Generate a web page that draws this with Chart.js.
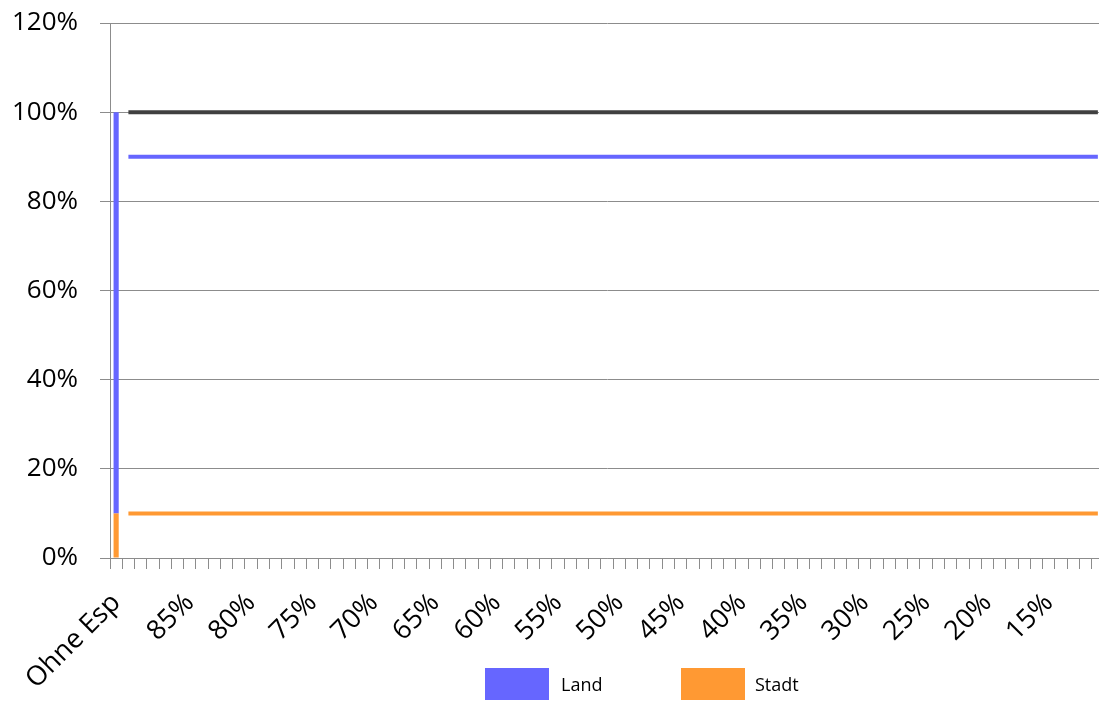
<!DOCTYPE html>
<html>
<head>
<meta charset="utf-8">
<script src="https://cdn.jsdelivr.net/npm/chart.js@4.4.0/dist/chart.umd.min.js"></script>
<style>
  html, body { margin: 0; padding: 0; background: #fff; overflow: hidden; }
  #wrap { position: relative; width: 1099px; height: 701px; overflow: hidden; font-family: "Open Sans", sans-serif; }
  #chart { position: absolute; left: 0; top: 0; }
  .key { position: absolute; top: 668px; width: 64px; height: 32px; }
  .keytext { position: absolute; top: 671px; font-size: 18px; line-height: 26px; color: #000; }
</style>
</head>
<body>
<div id="wrap">
  <!-- canvas is a few px wider than the page: the plot runs past the right edge like the original -->
  <canvas id="chart" width="1104" height="701"></canvas>
  <div class="key" style="left:485px;background:#6666ff"></div>
  <div class="keytext" style="left:561px">Land</div>
  <div class="key" style="left:681px;background:#ff9933"></div>
  <div class="keytext" style="left:755px">Stadt</div>
</div>
<script>
// categories (first one is the bar, the rest carry the reference lines)
const categories = ['Ohne Esp',
  '90%', '89%', '88%', '87%', '86%', '85%', '84%', '83%', '82%', '81%',
  '80%', '79%', '78%', '77%', '76%', '75%', '74%', '73%', '72%', '71%',
  '70%', '69%', '68%', '67%', '66%', '65%', '64%', '63%', '62%', '61%',
  '60%', '59%', '58%', '57%', '56%', '55%', '54%', '53%', '52%', '51%',
  '50%', '49%', '48%', '47%', '46%', '45%', '44%', '43%', '42%', '41%',
  '40%', '39%', '38%', '37%', '36%', '35%', '34%', '33%', '32%', '31%',
  '30%', '29%', '28%', '27%', '26%', '25%', '24%', '23%', '22%', '21%',
  '20%', '19%', '18%', '17%', '16%', '15%', '14%', '13%', '12%', '11%'];

// stacked bar at "Ohne Esp"
const stadtBar = [10];
const landBar = [90];

// horizontal lines
const totalLine = [null,
  100, 100, 100, 100, 100, 100, 100, 100, 100, 100,
  100, 100, 100, 100, 100, 100, 100, 100, 100, 100,
  100, 100, 100, 100, 100, 100, 100, 100, 100, 100,
  100, 100, 100, 100, 100, 100, 100, 100, 100, 100,
  100, 100, 100, 100, 100, 100, 100, 100, 100, 100,
  100, 100, 100, 100, 100, 100, 100, 100, 100, 100,
  100, 100, 100, 100, 100, 100, 100, 100, 100, 100,
  100, 100, 100, 100, 100, 100, 100, 100, 100, 100];
const landLine = [null,
  90, 90, 90, 90, 90, 90, 90, 90, 90, 90,
  90, 90, 90, 90, 90, 90, 90, 90, 90, 90,
  90, 90, 90, 90, 90, 90, 90, 90, 90, 90,
  90, 90, 90, 90, 90, 90, 90, 90, 90, 90,
  90, 90, 90, 90, 90, 90, 90, 90, 90, 90,
  90, 90, 90, 90, 90, 90, 90, 90, 90, 90,
  90, 90, 90, 90, 90, 90, 90, 90, 90, 90,
  90, 90, 90, 90, 90, 90, 90, 90, 90, 90];
const stadtLine = [null,
  10, 10, 10, 10, 10, 10, 10, 10, 10, 10,
  10, 10, 10, 10, 10, 10, 10, 10, 10, 10,
  10, 10, 10, 10, 10, 10, 10, 10, 10, 10,
  10, 10, 10, 10, 10, 10, 10, 10, 10, 10,
  10, 10, 10, 10, 10, 10, 10, 10, 10, 10,
  10, 10, 10, 10, 10, 10, 10, 10, 10, 10,
  10, 10, 10, 10, 10, 10, 10, 10, 10, 10,
  10, 10, 10, 10, 10, 10, 10, 10, 10, 10];

const yTicks = [0, 20, 40, 60, 80, 100, 120];

const gridGray = '#8c8c8c';
const font = 'Open Sans';

const ctx = document.getElementById('chart').getContext('2d');
new Chart(ctx, {
    type: 'bar',
    data: {
        labels: categories,
        datasets: [{
            label: 'Stadt',
            data: stadtBar,
            backgroundColor: '#ff9933',
            stack: 'bar',
            barPercentage: 0.42,
            categoryPercentage: 1,
            order: 2
        }, {
            label: 'Land',
            data: landBar,
            backgroundColor: '#6666ff',
            stack: 'bar',
            barPercentage: 0.42,
            categoryPercentage: 1,
            order: 2
        }, {
            type: 'line',
            label: 'Gesamt',
            data: totalLine,
            borderColor: '#404040',
            borderWidth: 4,
            pointRadius: 0,
            stack: 'l1',
            order: 1
        }, {
            type: 'line',
            label: 'Land',
            data: landLine,
            borderColor: '#6666ff',
            borderWidth: 4,
            pointRadius: 0,
            stack: 'l2',
            order: 1
        }, {
            type: 'line',
            label: 'Stadt',
            data: stadtLine,
            borderColor: '#ff9933',
            borderWidth: 4,
            pointRadius: 0,
            stack: 'l3',
            order: 1
        }]
    },
    options: {
        responsive: false,
        animation: false,
        layout: {
            padding: { top: 23, right: 0, bottom: 0, left: 0 }
        },
        plugins: {
            legend: { display: false },
            tooltip: { enabled: false }
        },
        scales: {
            x: {
                stacked: true,
                afterFit: function (scale) {
                    scale.height = 143;
                    scale.paddingLeft = 0;
                    scale.paddingRight = 0;
                },
                grid: {
                    offset: true,
                    drawOnChartArea: false,
                    tickLength: 11,
                    color: gridGray
                },
                border: { color: gridGray },
                ticks: {
                    autoSkip: false,
                    maxRotation: 45,
                    minRotation: 45,
                    padding: 18,
                    color: '#000',
                    font: { family: font, size: 27 },
                    callback: function (val, i) {
                        return (i === 0 || (i > 1 && i % 5 === 1)) ? categories[i] : '';
                    }
                }
            },
            y: {
                stacked: true,
                min: 0,
                max: 120,
                afterFit: function (scale) {
                    scale.width = 110;
                    scale.paddingTop = 0;
                    scale.paddingBottom = 0;
                },
                afterBuildTicks: function (scale) {
                    scale.ticks = yTicks.map(v => ({ value: v }));
                },
                grid: {
                    color: gridGray,
                    tickLength: 10
                },
                border: { color: gridGray },
                ticks: {
                    padding: 22,
                    color: '#000',
                    font: { family: font, size: 26 },
                    callback: v => v + '%'
                }
            }
        }
    }
});
</script>
</body>
</html>
